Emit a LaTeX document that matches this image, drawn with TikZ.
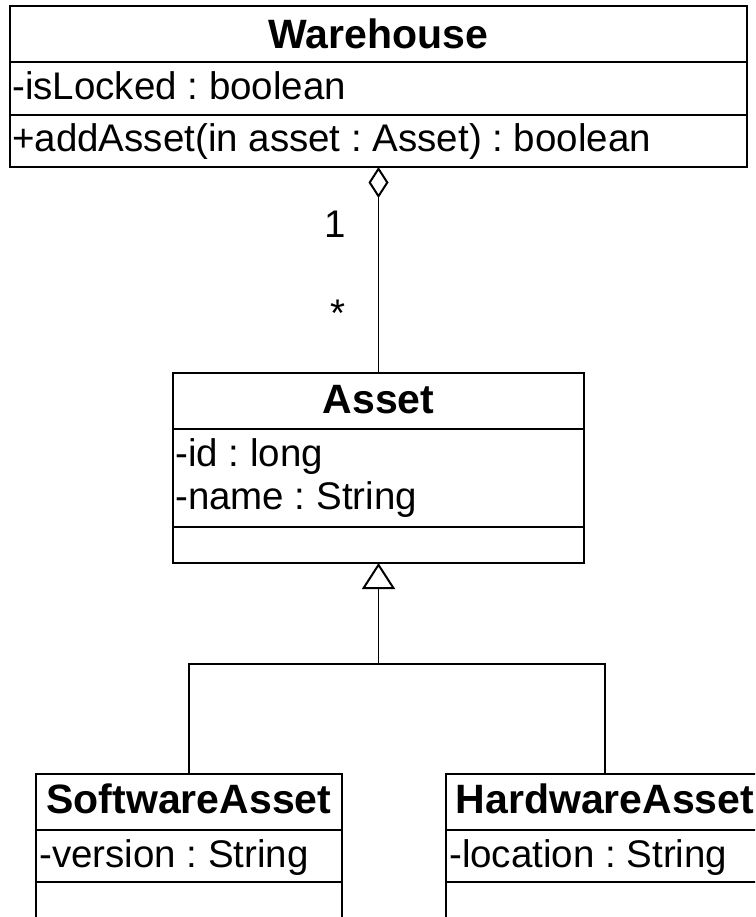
\documentclass[tikz,border=0pt]{standalone}
\usepackage{fontspec}
\setmainfont{Liberation Sans}
\usetikzlibrary{arrows.meta}

\begin{document}
\frenchspacing
\begin{tikzpicture}[x=1pt,y=-1pt,
  classbox/.style={draw, line width=2pt, inner sep=0pt, outer sep=0pt, anchor=north west},
  compsep/.style={line width=2pt},
  classname/.style={font=\fontsize{41}{49}\selectfont\bfseries, anchor=base, inner sep=0pt},
  member/.style={font=\fontsize{38.5}{46}\selectfont, anchor=base west, inner sep=0pt},
  mult/.style={font=\fontsize{38.5}{46}\selectfont, anchor=base, inner sep=0pt},
  link/.style={line width=1.6pt},
]
\useasboundingbox (0,0) rectangle (755,917);
\clip (0,0) rectangle (755,917);

% Warehouse
\node[classbox, minimum width=737pt, minimum height=161pt] (wh) at (10,6) {};
\draw[compsep] (10,62) -- (747,62);
\draw[compsep] (10,115) -- (747,115);
\node[classname] (whname) at (378.5,48.5) {Warehouse};
\node[member] (whattr) at (12,100) {-isLocked : boolean};
\node[member] (whop) at (12,152) {+addAsset(in asset : Asset) : boolean};

% Asset
\node[classbox, minimum width=411pt, minimum height=190pt] (asset) at (173,373) {};
\draw[compsep] (173,429) -- (584,429);
\draw[compsep] (173,527) -- (584,527);
\node[classname] (assetname) at (378.5,413) {Asset};
\node[member] (assetid) at (175,466) {-id : long};
\node[member] (assetnm) at (175,509) {-name : String};

% SoftwareAsset
\node[classbox, minimum width=306pt, minimum height=170pt] (sw) at (36,774) {};
\draw[compsep] (36,830) -- (342,830);
\draw[compsep] (36,882) -- (342,882);
\node[classname] (swname) at (189,813) {SoftwareAsset};
\node[member] (swver) at (39,867) {-version : String};

% HardwareAsset
\node[classbox, minimum width=318pt, minimum height=170pt] (hw) at (446,774) {};
\draw[compsep] (446,830) -- (764,830);
\draw[compsep] (446,882) -- (764,882);
\node[classname] (hwname) at (605,813) {HardwareAsset};
\node[member] (hwloc) at (449,867) {-location : String};

% Aggregation Warehouse <>-- Asset
\draw[link, {Diamond[open, length=31pt, width=20pt, line width=2pt]}-] (wh.south) -- (asset.north);
\node[mult] (multone) at (335,237) {1};
\node[mult] (multmany) at (338,326) {*};

% Generalization tree
\coordinate (j) at (378.5,664);
\draw[link] (sw.north) |- (j) -| (hw.north);
\draw[link, -{Triangle[open, length=26pt, width=33pt, line width=2pt]}] (j) -- (asset.south);
\end{tikzpicture}
\end{document}
